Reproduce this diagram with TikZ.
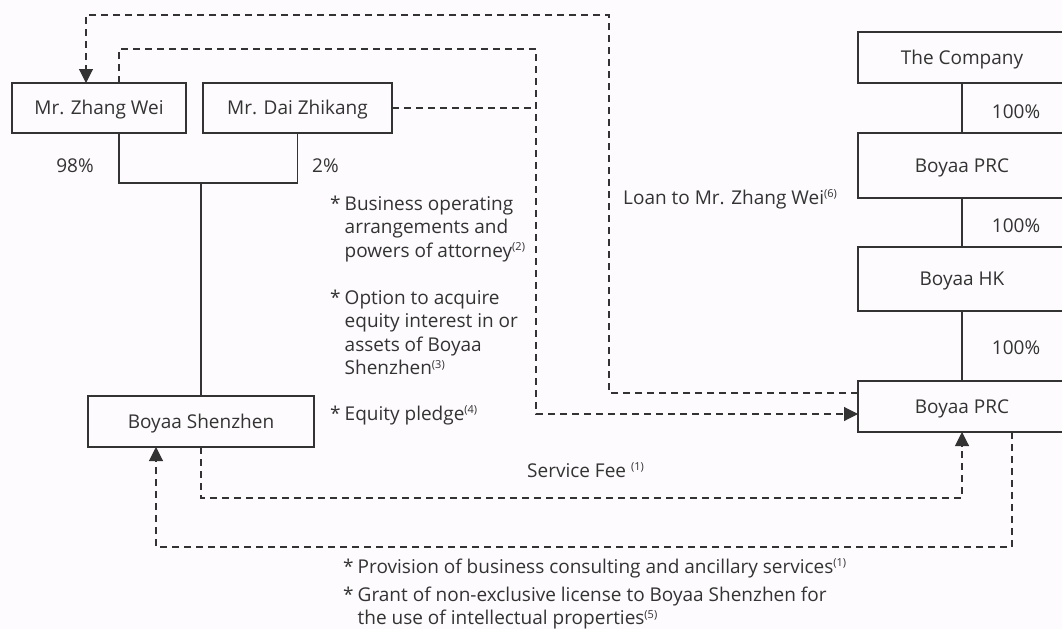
\documentclass[tikz,border=0pt]{standalone}
\usepackage{fontspec}
\setmainfont{Open Sans}
\usetikzlibrary{arrows.meta, calc, positioning}
\definecolor{ink}{RGB}{51,51,51}
\definecolor{paper}{RGB}{253,251,253}
\newcommand{\starmark}{\makebox[14.5pt][l]{*}}
\newcommand{\fnref}[1]{\textsuperscript{\fontsize{11}{11}\selectfont(#1)}}

\begin{document}
\begin{tikzpicture}[x=1pt,y=-1pt,node distance=2cm,font=\fontsize{19}{23.5}\selectfont,text=ink]
\tikzstyle{entity}=[draw=ink,line width=1.1pt,inner sep=0pt,outer sep=0pt,minimum height=51pt,text height=13.6pt,text depth=0pt]
\tikzstyle{owned}=[-,draw=ink,line width=1.1pt]
\tikzstyle{contract}=[draw=ink,line width=1.1pt,dash pattern=on 7pt off 5pt]
\tikzstyle{tip}=[-{Triangle[length=14pt,width=14pt]}]
\tikzstyle{note}=[inner sep=0pt,anchor=base west,align=left]

\path[use as bounding box,fill=paper] (0,0) rectangle (1062,629);

% shareholders and the VIE
\node[entity,minimum width=174pt,minimum height=50pt] (zhang) at (99,108) {Mr. Zhang Wei};
\node[entity,minimum width=189pt,minimum height=50pt] (dai) [right=17pt of zhang] {Mr. Dai Zhikang};
\node[entity,minimum width=226pt] (shenzhen) at (201,421.5) {Boyaa Shenzhen};

% group chain
\node[entity,minimum width=208pt] (company) at (962,57.5) {The Company};
\node[entity,minimum width=208pt,minimum height=65pt] (prcA) [below=50pt of company] {Boyaa PRC};
\node[entity,minimum width=208pt,minimum height=64pt] (hk) [below=49pt of prcA] {Boyaa HK};
\node[entity,minimum width=208pt] (prcB) [below=70pt of hk] {Boyaa PRC};

\coordinate (fork) at (201,183);
\coordinate (loanbend) at (609,15);
\coordinate (pactbend) at (536,49);
\coordinate (feebend) at (600,498);
\coordinate (svcbend) at (600,547);

\draw[owned] ($(zhang.south)+(20,0)$) |- (fork) -| (dai.south);
\draw[owned] (fork) -- (shenzhen.north);
\draw[owned] (company) -- (prcA);
\draw[owned] (prcA) -- (hk);
\draw[owned] (hk) -- (prcB);

\node[note,anchor=base] (p98) at (75,172) {98\%};
\node[note] (p2) at (312,172) {2\%};
\node[note,anchor=base] (pA) at (1016,118) {100\%};
\node[note,anchor=base] (pB) at (1016,232) {100\%};
\node[note,anchor=base] (pC) at (1016,354) {100\%};

% contractual arrangements
\draw[contract,tip] ($(prcB.west)+(0,-13.5)$) -| (loanbend) -| ($(zhang.north)+(-13,0)$);
\draw[contract,tip] ($(zhang.north)+(20,0)$) |- (pactbend) |- ($(prcB.west)+(0,7.5)$);
\draw[contract] (dai.east) -- (dai.east -| pactbend);
\draw[contract,tip] (shenzhen.south) |- (feebend) -| (prcB.south);
\draw[contract,tip] ($(prcB.south)+(50,0)$) |- (svcbend) -| ($(shenzhen.south)+(-45,0)$);

\node[note] (loan) at (623,204) {Loan to Mr. Zhang Wei\fnref{6}};
\node[note] (pact) at (330,210) {\begin{tabular}[t]{@{}l@{}l@{}}\starmark&Business operating\\&arrangements and\\&powers of attorney\fnref{2}\end{tabular}};
\node[note] (option) at (330,304) {\begin{tabular}[t]{@{}l@{}l@{}}\starmark&Option to acquire\\&equity interest in or\\&assets of Boyaa\\&Shenzhen\fnref{3}\end{tabular}};
\node[note] (pledge) at (330,420) {\starmark Equity pledge\fnref{4}};
\node[note] (fee) at (527,477) {Service Fee \fnref{1}};
\node[note] (svcA) at (343,573) {\starmark Provision of business consulting and ancillary services\fnref{1}};
\node[note] (svcB) at (343,601) {\begin{tabular}[t]{@{}l@{}l@{}}\starmark&Grant of non-exclusive license to Boyaa Shenzhen for\\&the use of intellectual properties\fnref{5}\end{tabular}};
\end{tikzpicture}
\end{document}
